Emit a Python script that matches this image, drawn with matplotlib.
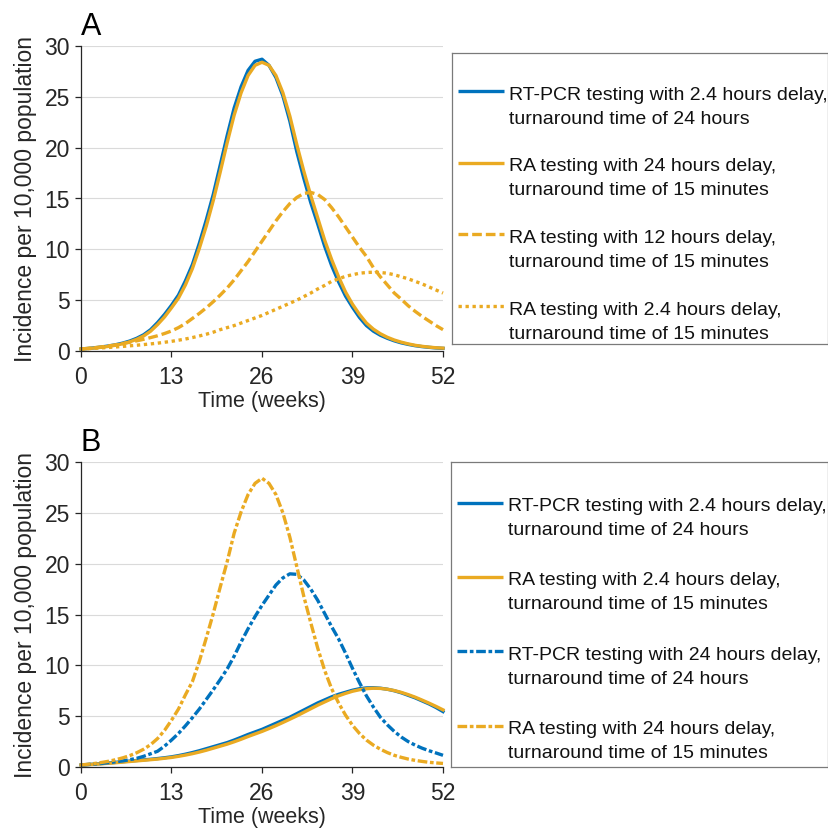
import matplotlib
matplotlib.use('Agg')
import matplotlib.pyplot as plt

plt.rcParams['font.family'] = ['Liberation Sans', 'DejaVu Sans']

##########DATA##########
weeks = list(range(53))

# panel A
a_rtpcr_24h = [0.20, 0.25, 0.32, 0.40, 0.50, 0.62, 0.78, 0.98, 1.25, 1.6,
               2.1, 2.8, 3.6, 4.5, 5.5, 6.9, 8.5, 10.6, 12.9, 15.4,
               18.3, 21.2, 23.9, 26.0, 27.6, 28.5, 28.7, 28.1, 26.9, 25.1,
               22.6, 19.6, 17.0, 14.6, 12.5, 10.3, 8.4, 6.8, 5.4, 4.3,
               3.3, 2.5, 1.95, 1.55, 1.25, 1.0, 0.8, 0.65, 0.52, 0.43,
               0.36, 0.30, 0.26]
a_ra_24h = [0.20, 0.24, 0.30, 0.37, 0.46, 0.57, 0.72, 0.90, 1.15, 1.48,
            1.95, 2.6, 3.35, 4.25, 5.2, 6.5, 8.1, 10.1, 12.3, 14.8,
            17.6, 20.5, 23.2, 25.4, 27.1, 28.1, 28.4, 28.1, 27.1, 25.4,
            23.1, 20.3, 17.7, 15.3, 13.1, 10.9, 9.0, 7.3, 5.8, 4.6,
            3.6, 2.75, 2.15, 1.7, 1.35, 1.08, 0.87, 0.70, 0.56, 0.46,
            0.38, 0.32, 0.28]
a_ra_12h = [0.20, 0.26, 0.33, 0.41, 0.50, 0.61, 0.73, 0.86, 1.0, 1.15,
            1.32, 1.5, 1.72, 1.97, 2.3, 2.7, 3.2, 3.7, 4.25, 4.85,
            5.5, 6.2, 7.0, 7.9, 8.8, 9.8, 10.8, 11.8, 12.8, 13.7,
            14.5, 15.1, 15.5, 15.6, 15.4, 14.9, 14.1, 13.2, 12.2, 11.2,
            10.2, 9.3, 8.2, 7.3, 6.5, 5.7, 5.1, 4.45, 3.9, 3.4,
            2.95, 2.5, 2.1]
a_ra_2h = [0.20, 0.23, 0.27, 0.31, 0.35, 0.40, 0.45, 0.51, 0.57, 0.63,
           0.70, 0.77, 0.86, 0.95, 1.06, 1.18, 1.32, 1.48, 1.65, 1.85,
           2.1, 2.3, 2.5, 2.75, 3.0, 3.25, 3.5, 3.8, 4.1, 4.4,
           4.7, 5.0, 5.35, 5.7, 6.1, 6.45, 6.85, 7.1, 7.35, 7.5,
           7.65, 7.72, 7.75, 7.72, 7.65, 7.5, 7.3, 7.1, 6.85, 6.6,
           6.3, 6.0, 5.7]

# panel B
b_rtpcr_2h = [0.20, 0.24, 0.29, 0.34, 0.40, 0.46, 0.52, 0.58, 0.64, 0.70,
              0.76, 0.83, 0.91, 1.0, 1.12, 1.26, 1.42, 1.6, 1.8, 2.0,
              2.2, 2.4, 2.65, 2.92, 3.2, 3.45, 3.7, 4.0, 4.3, 4.6,
              4.9, 5.25, 5.6, 5.95, 6.3, 6.6, 6.9, 7.15, 7.35, 7.55,
              7.7, 7.78, 7.8, 7.75, 7.65, 7.5, 7.3, 7.05, 6.8, 6.5,
              6.2, 5.85, 5.45]
b_ra_2h = [0.20, 0.23, 0.27, 0.32, 0.37, 0.42, 0.48, 0.54, 0.60, 0.66,
           0.72, 0.78, 0.86, 0.94, 1.05, 1.17, 1.31, 1.47, 1.65, 1.85,
           2.05, 2.25, 2.48, 2.73, 3.0, 3.25, 3.5, 3.78, 4.07, 4.38,
           4.7, 5.03, 5.38, 5.73, 6.08, 6.4, 6.72, 7.0, 7.24, 7.45,
           7.6, 7.7, 7.75, 7.73, 7.65, 7.52, 7.34, 7.12, 6.87, 6.58,
           6.28, 5.96, 5.62]
b_rtpcr_24h = [0.20, 0.25, 0.30, 0.36, 0.43, 0.51, 0.60, 0.72, 0.85, 1.05,
               1.3, 1.55, 2.05, 2.65, 3.3, 4.05, 4.85, 5.7, 6.65, 7.6,
               8.6, 9.65, 10.9, 12.3, 13.6, 14.8, 15.9, 16.9, 17.9, 18.6,
               19.0, 18.95, 18.4, 17.5, 16.4, 15.1, 13.8, 12.6, 11.2, 9.7,
               8.3, 7.0, 5.9, 4.9, 4.15, 3.5, 2.95, 2.5, 2.15, 1.85,
               1.6, 1.38, 1.15]
b_ra_24h = [0.20, 0.27, 0.35, 0.45, 0.57, 0.72, 0.90, 1.12, 1.4, 1.75,
            2.2, 2.8, 3.6, 4.6, 5.7, 7.1, 8.4, 10.4, 12.7, 15.1,
            17.7, 20.2, 23.0, 25.1, 26.8, 27.9, 28.4, 27.9, 26.8, 25.0,
            22.6, 19.7, 16.8, 14.2, 11.7, 9.5, 7.7, 6.3, 5.1, 4.1,
            3.3, 2.65, 2.15, 1.75, 1.42, 1.15, 0.95, 0.78, 0.65, 0.55,
            0.46, 0.40, 0.35]

labels_a = ['RT-PCR testing with 2.4 hours delay,\nturnaround time of 24 hours',
            'RA testing with 24 hours delay,\nturnaround time of 15 minutes',
            'RA testing with 12 hours delay,\nturnaround time of 15 minutes',
            'RA testing with 2.4 hours delay,\nturnaround time of 15 minutes']
labels_b = ['RT-PCR testing with 2.4 hours delay,\nturnaround time of 24 hours',
            'RA testing with 2.4 hours delay,\nturnaround time of 15 minutes',
            'RT-PCR testing with 24 hours delay,\nturnaround time of 24 hours',
            'RA testing with 24 hours delay,\nturnaround time of 15 minutes']

xticks = [0, 13, 26, 39, 52]
yticks = [0, 5, 10, 15, 20, 25, 30]

##########STYLE##########
BLUE = '#0072BD'
ORANGE = '#EAAA22'
DARK = '#262626'
W, H = 829, 833
LW = 2.4
DASH = (0, (2.9, 1.2))
DOT = (0, (1.0, 1.1))
DASHDOT = (0, (2.9, 0.8, 1.1, 0.8))

fig = plt.figure(figsize=(W / 100, H / 100), dpi=100)


def px_axes(left, top, right, bottom):
    return fig.add_axes([left / W, 1 - bottom / H, (right - left) / W, (bottom - top) / H])


def style(ax, letter):
    ax.set_xlim(0, 52)
    ax.set_ylim(0, 30)
    ax.set_xticks(xticks)
    ax.set_yticks(yticks)
    ax.grid(axis='y', color='#dadada', lw=0.8)
    ax.set_axisbelow(True)
    for s in ['top', 'right']:
        ax.spines[s].set_visible(False)
    for s in ['left', 'bottom']:
        ax.spines[s].set_color(DARK)
        ax.spines[s].set_linewidth(0.9)
    ax.tick_params(axis='both', colors=DARK, labelsize=16.5, length=4, width=0.9)
    ax.tick_params(axis='x', pad=7)
    ax.tick_params(axis='y', pad=4)
    ax.set_xlabel('Time (weeks)', fontsize=15.5, color=DARK, labelpad=1)
    ax.set_ylabel('Incidence per 10,000 population', fontsize=16.5, color=DARK, labelpad=5)
    ax.text(0.0, 1.036, letter, transform=ax.transAxes, fontsize=22, va='baseline', ha='left')


def legend_box(left, top, right, bottom, entries, base0, step):
    lg = px_axes(left, top, right, bottom)
    lg.set_xlim(left, right)
    lg.set_ylim(bottom, top)
    lg.set_xticks([])
    lg.set_yticks([])
    for s in lg.spines.values():
        s.set_color('#7a7a7a')
        s.set_linewidth(0.9)
    for i, (color, ls, label) in enumerate(entries):
        base = base0 + i * step
        lg.plot([left + 6, left + 52], [base - 8.5, base - 8.5], color=color, ls=ls, lw=LW,
                solid_capstyle='butt', dash_capstyle='butt')
        first, second = label.split('\n')
        lg.text(left + 57, base, first, fontsize=14, va='baseline', ha='left', color='#111111')
        lg.text(left + 57, base + 24, second, fontsize=14, va='baseline', ha='left', color='#111111')


##########PANEL A##########
ax1 = px_axes(81, 46, 443, 351)
ax1.plot(weeks, a_rtpcr_24h, color=BLUE, lw=LW, clip_on=False)
ax1.plot(weeks, a_ra_24h, color=ORANGE, lw=LW, clip_on=False)
ax1.plot(weeks, a_ra_12h, color=ORANGE, lw=LW, ls=DASH, clip_on=False)
ax1.plot(weeks, a_ra_2h, color=ORANGE, lw=LW, ls=DOT, clip_on=False)
style(ax1, 'A')
legend_box(452, 53, 828, 344,
           [(BLUE, '-', labels_a[0]), (ORANGE, '-', labels_a[1]),
            (ORANGE, DASH, labels_a[2]), (ORANGE, DOT, labels_a[3])],
           99.5, 71.7)

##########PANEL B##########
ax2 = px_axes(81, 462, 443, 767)
ax2.plot(weeks, b_rtpcr_2h, color=BLUE, lw=LW, clip_on=False)
ax2.plot(weeks, b_ra_2h, color=ORANGE, lw=LW, clip_on=False)
ax2.plot(weeks, b_rtpcr_24h, color=BLUE, lw=LW, ls=DASHDOT, clip_on=False)
ax2.plot(weeks, b_ra_24h, color=ORANGE, lw=LW, ls=DASHDOT, clip_on=False)
style(ax2, 'B')
legend_box(451, 462, 828, 767,
           [(BLUE, '-', labels_b[0]), (ORANGE, '-', labels_b[1]),
            (BLUE, DASHDOT, labels_b[2]), (ORANGE, DASHDOT, labels_b[3])],
           511, 74.4)

fig.savefig('out.png', dpi=100)
